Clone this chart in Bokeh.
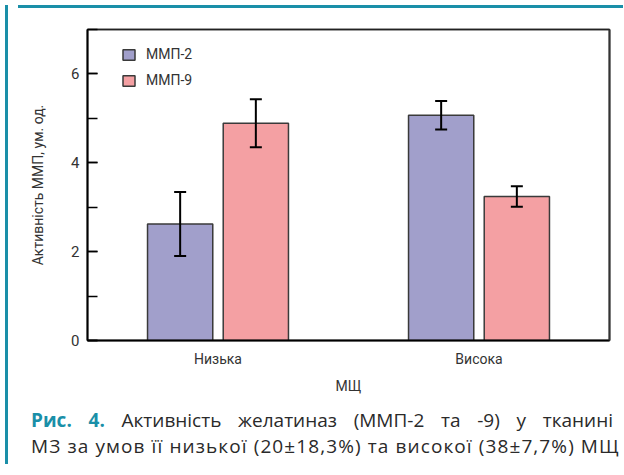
from bokeh.plotting import figure
from bokeh.models import (ColumnDataSource, FactorRange, Range1d, Whisker, TeeHead,
                          SingleIntervalTicker, FixedTicker, Div, LinearAxis, CategoricalAxis)
from bokeh.transform import dodge
from bokeh.layouts import column, row
from bokeh.embed import file_html
from bokeh.resources import INLINE

groups = ["Низька", "Висока"]
mmp2 = [2.62, 5.07]
mmp2_err = [0.72, 0.32]
mmp9 = [4.89, 3.24]
mmp9_err = [0.54, 0.23]
series_labels = ["ММП-2", "ММП-9"]
y_label = "Активність ММП, ум. од."
x_label = "МЩ"

FONT = "Roboto"
TXT = "#333333"
C2 = "#a19fcb"
C9 = "#f4a0a3"
TEAL = "#1a8fa8"

src = ColumnDataSource(dict(
    x=groups,
    m2=mmp2, m9=mmp9,
    u2=[a + b for a, b in zip(mmp2, mmp2_err)],
    l2=[a - b for a, b in zip(mmp2, mmp2_err)],
    u9=[a + b for a, b in zip(mmp9, mmp9_err)],
    l9=[a - b for a, b in zip(mmp9, mmp9_err)],
))

p = figure(x_range=FactorRange(*groups, range_padding=0), y_range=Range1d(0, 7),
           width=605, height=389, output_backend="svg", toolbar_location=None,
           min_border_left=74, min_border_right=9, min_border_top=16, min_border_bottom=62)

off = 0.145
w = 0.25
p.vbar(x=dodge("x", -off, range=p.x_range), top="m2", width=w, source=src,
       fill_color=C2, line_color="#3a3a3a", line_width=1.5, legend_label=series_labels[0])
p.vbar(x=dodge("x", off, range=p.x_range), top="m9", width=w, source=src,
       fill_color=C9, line_color="#3a3a3a", line_width=1.5, legend_label=series_labels[1])

for o, u, l in [(-off, "u2", "l2"), (off, "u9", "l9")]:
    wk = Whisker(base=dodge("x", o, range=p.x_range), upper=u, lower=l, source=src,
                 line_color="black", line_width=2, level="overlay",
                 upper_head=TeeHead(size=12, line_width=2, line_color="black"),
                 lower_head=TeeHead(size=12, line_width=2, line_color="black"))
    p.add_layout(wk)

p.grid.visible = False
p.outline_line_color = "#222222"
p.outline_line_width = 1.5
p.background_fill_color = "white"
p.border_fill_color = "white"

# frame lines on top and right (no ticks, no labels)
top_ax = CategoricalAxis(ticker=FixedTicker(ticks=[]),
                         major_tick_line_color=None, minor_tick_line_color=None,
                         axis_line_color="#222222", axis_line_width=1.5, major_label_standoff=0)
p.add_layout(top_ax, "above")
right_ax = LinearAxis(ticker=FixedTicker(ticks=[]),
                      major_tick_line_color=None, minor_tick_line_color=None,
                      axis_line_color="#333333", axis_line_width=2, major_label_standoff=0)
p.add_layout(right_ax, "right")

ya = p.left[0]
ya.ticker = SingleIntervalTicker(interval=2, num_minor_ticks=2)
ya.major_tick_in = 10
ya.major_tick_out = 0
ya.minor_tick_in = 10
ya.minor_tick_out = 0
ya.major_tick_line_width = 1.5
ya.minor_tick_line_width = 1.5
ya.major_tick_line_color = "black"
ya.minor_tick_line_color = "black"
ya.axis_line_width = 2
ya.axis_line_color = "black"
ya.major_label_standoff = 8
ya.major_label_text_font = FONT
ya.major_label_text_font_size = "15px"
ya.major_label_text_color = TXT
ya.axis_label = y_label
ya.axis_label_text_font = FONT
ya.axis_label_text_font_size = "14px"
ya.axis_label_text_font_style = "normal"
ya.axis_label_text_color = TXT
ya.axis_label_standoff = 22

xa = p.below[0]
xa.axis_line_color = "black"
xa.axis_line_width = 2
xa.major_tick_line_color = None
xa.minor_tick_line_color = None
xa.major_label_standoff = 4
xa.major_label_text_font = FONT
xa.major_label_text_font_size = "14px"
xa.major_label_text_color = TXT
xa.axis_label = x_label
xa.axis_label_text_font = FONT
xa.axis_label_text_font_size = "14px"
xa.axis_label_text_font_style = "normal"
xa.axis_label_text_color = TXT
xa.axis_label_standoff = 8

lg = p.legend[0]
lg.location = (34, 250)
lg.padding = 0
lg.margin = 0
lg.spacing = 6
lg.glyph_width = 15
lg.glyph_height = 13
lg.label_height = 20
lg.label_standoff = 10
lg.label_text_font = FONT
lg.label_text_font_size = "14px"
lg.label_text_color = TXT
lg.border_line_color = None
lg.background_fill_alpha = 0

line_style = "width:582px;text-align:justify;text-align-last:justify;white-space:nowrap;"
caption = Div(
    text=(f'<div style="{line_style}"><span style="color:{TEAL};font-weight:bold">Рис. 4.</span> '
          'Активність желатиназ (ММП-2 та -9) у тканині</div>'
          f'<div style="{line_style}letter-spacing:1.1px">МЗ за умов її низької (20±18,3%) та високої (38±7,7%) МЩ</div>'),
    width=605, height=67,
    styles={"font-family": "Open Sans", "font-size": "19px", "color": "#2a2a2a",
            "line-height": "26px", "padding-top": "0px", "padding-left": "13px",
            "background-color": "white"})

left_bar = Div(width=3, height=459, styles={"background-color": TEAL})
top_bar = Div(width=605, height=3, styles={"background-color": TEAL})

layout = row(left_bar, column(top_bar, p, caption, spacing=0), spacing=0)

open("out.html", "w").write(file_html(layout, INLINE))
